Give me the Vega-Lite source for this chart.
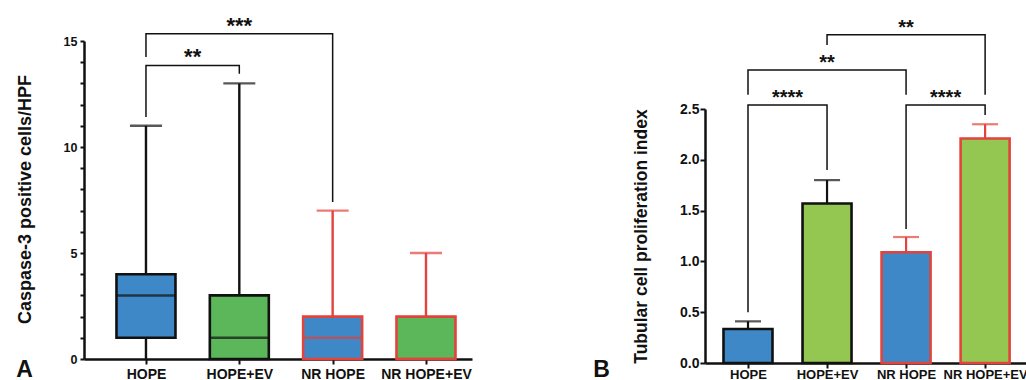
{
  "$schema": "https://vega.github.io/schema/vega-lite/v6.json",
  "padding": {"left": 15, "top": 14, "right": 0, "bottom": 0},
  "spacing": 120,
  "background": "white",
  "resolve": {"scale": {"fill": "independent", "stroke": "independent", "color": "independent"}},
  "config": {
    "font": "Liberation Sans",
    "view": {"stroke": null},
    "axis": {"domainColor": "#111111", "tickColor": "#111111", "labelColor": "#111111", "titleColor": "#111111", "grid": false, "domainWidth": 2.5, "tickWidth": 2, "labelFlush": false, "labelOverlap": false}
  },
  "datasets": {
    "boxes": [
      {"g": "HOPE", "i": 1, "min": 0, "q1": 1, "med": 3, "q3": 4, "max": 11, "ev": "no", "nr": "no"},
      {"g": "HOPE+EV", "i": 2, "min": 0, "q1": 0, "med": 1, "q3": 3, "max": 13, "ev": "yes", "nr": "no"},
      {"g": "NR HOPE", "i": 3, "min": 0, "q1": 0, "med": 1, "q3": 2, "max": 7, "ev": "no", "nr": "yes"},
      {"g": "NR HOPE+EV", "i": 4, "min": 0, "q1": 0, "med": 0, "q3": 2, "max": 5, "ev": "yes", "nr": "yes"}
    ],
    "bracketsA": [
      {"b": "a1", "o": 1, "x": 1, "y": 14.25},
      {"b": "a1", "o": 2, "x": 1, "y": 15.34},
      {"b": "a1", "o": 3, "x": 3, "y": 15.34},
      {"b": "a1", "o": 4, "x": 3, "y": 7.41},
      {"b": "a2", "o": 1, "x": 1, "y": 11.42},
      {"b": "a2", "o": 2, "x": 1, "y": 13.85},
      {"b": "a2", "o": 3, "x": 2, "y": 13.85},
      {"b": "a2", "o": 4, "x": 2, "y": 13.46}
    ],
    "starsA": [
      {"x": 2, "y": 15.34, "t": "***"},
      {"x": 1.5, "y": 13.85, "t": "**"}
    ],
    "bars": [
      {"g": "HOPE", "i": 1, "mean": 0.335, "err": 0.41, "ev": "no", "nr": "no"},
      {"g": "HOPE+EV", "i": 2, "mean": 1.57, "err": 1.8, "ev": "yes", "nr": "no"},
      {"g": "NR HOPE", "i": 3, "mean": 1.09, "err": 1.24, "ev": "no", "nr": "yes"},
      {"g": "NR HOPE+EV", "i": 4, "mean": 2.21, "err": 2.35, "ev": "yes", "nr": "yes"}
    ],
    "bracketsB": [
      {"b": "b1", "o": 1, "x": 1, "y": 0.5},
      {"b": "b1", "o": 2, "x": 1, "y": 2.54},
      {"b": "b1", "o": 3, "x": 2, "y": 2.54},
      {"b": "b1", "o": 4, "x": 2, "y": 1.9},
      {"b": "b2", "o": 1, "x": 3, "y": 1.32},
      {"b": "b2", "o": 2, "x": 3, "y": 2.54},
      {"b": "b2", "o": 3, "x": 4, "y": 2.54},
      {"b": "b2", "o": 4, "x": 4, "y": 2.44},
      {"b": "b3", "o": 1, "x": 1, "y": 2.64},
      {"b": "b3", "o": 2, "x": 1, "y": 2.885},
      {"b": "b3", "o": 3, "x": 3, "y": 2.885},
      {"b": "b3", "o": 4, "x": 3, "y": 2.64},
      {"b": "b4", "o": 1, "x": 2, "y": 3.13},
      {"b": "b4", "o": 2, "x": 2, "y": 3.23},
      {"b": "b4", "o": 3, "x": 4, "y": 3.23},
      {"b": "b4", "o": 4, "x": 4, "y": 2.64}
    ],
    "starsB": [
      {"x": 1.5, "y": 2.54, "t": "****"},
      {"x": 3.5, "y": 2.54, "t": "****"},
      {"x": 2, "y": 2.885, "t": "**"},
      {"x": 3, "y": 3.23, "t": "**"}
    ]
  },
  "hconcat": [
    {
      "width": 388,
      "height": 318,
      "layer": [
        {
          "data": {"name": "boxes"},
          "mark": {"type": "rule", "strokeWidth": 2.4},
          "encoding": {
            "x": {"field": "i", "type": "quantitative",
              "scale": {"domain": [0.336, 4.493], "nice": false, "zero": false, "padding": 0},
              "axis": {"values": [1, 2, 3, 4], "labelExpr": "['', 'HOPE', 'HOPE+EV', 'NR HOPE', 'NR HOPE+EV'][datum.value]",
                "labelFontSize": 14, "labelFontWeight": "bold", "tickSize": 5, "labelPadding": 3, "labelOverlap": false, "labelFlush": false,
                "title": "A", "titleFontSize": 23, "titleFontWeight": "bold", "titleX": -60, "titleY": 10, "titleAlign": "center", "titleBaseline": "middle"}},
            "y": {"field": "min", "type": "quantitative",
              "scale": {"domain": [0, 15], "nice": false, "padding": 0},
              "axis": {"values": [0,1,2,3,4,5,6,7,8,9,10,11,12,13,14,15], "labelExpr": "datum.value % 5 === 0 ? datum.label : ''",
                "labelOverlap": false, "labelFlush": false,
                "labelFontSize": 12.5, "labelFontWeight": "bold", "tickSize": 4, "labelPadding": 3,
                "title": "Caspase-3 positive cells/HPF", "titleFontSize": 18, "titleFontWeight": "bold",
                "titleX": -59, "titleY": 158, "titleAlign": "center", "titleBaseline": "middle"}},
            "y2": {"field": "max"},
            "stroke": {"field": "nr", "type": "nominal", "scale": {"domain": ["no", "yes"], "range": ["#111111", "#e2433b"]}, "legend": null}
          }
        },
        {
          "data": {"name": "boxes"},
          "mark": {"type": "bar", "width": 59, "strokeWidth": 2.6},
          "encoding": {
            "x": {"field": "i", "type": "quantitative"},
            "y": {"field": "q1", "type": "quantitative",
              "axis": {"values": [0,1,2,3,4,5,6,7,8,9,10,11,12,13,14,15], "labelExpr": "datum.value % 5 === 0 ? datum.label : ''",
                "labelOverlap": false, "labelFlush": false,
                "labelFontSize": 12.5, "labelFontWeight": "bold", "tickSize": 4, "labelPadding": 3,
                "title": "Caspase-3 positive cells/HPF", "titleFontSize": 18, "titleFontWeight": "bold",
                "titleX": -59, "titleY": 158, "titleAlign": "center", "titleBaseline": "middle"}},
            "y2": {"field": "q3"},
            "fill": {"field": "ev", "type": "nominal", "scale": {"domain": ["no", "yes"], "range": ["#3e88c7", "#5cb75a"]}, "legend": null},
            "stroke": {"field": "nr", "type": "nominal", "legend": null}
          }
        },
        {
          "data": {"name": "boxes"},
          "mark": {"type": "tick", "orient": "horizontal", "size": 60, "thickness": 2.5},
          "encoding": {
            "x": {"field": "i", "type": "quantitative"},
            "y": {"field": "med", "type": "quantitative",
              "axis": {"values": [0,1,2,3,4,5,6,7,8,9,10,11,12,13,14,15], "labelExpr": "datum.value % 5 === 0 ? datum.label : ''",
                "labelOverlap": false, "labelFlush": false,
                "labelFontSize": 12.5, "labelFontWeight": "bold", "tickSize": 4, "labelPadding": 3,
                "title": "Caspase-3 positive cells/HPF", "titleFontSize": 18, "titleFontWeight": "bold",
                "titleX": -59, "titleY": 158, "titleAlign": "center", "titleBaseline": "middle"}},
            "color": {"field": "nr", "type": "nominal", "scale": {"domain": ["no", "yes"], "range": ["#111111", "#e2433b"]}, "legend": null}
          }
        },
        {
          "data": {"name": "boxes"},
          "mark": {"type": "tick", "orient": "horizontal", "size": 32, "thickness": 2.4},
          "encoding": {
            "x": {"field": "i", "type": "quantitative"},
            "y": {"field": "max", "type": "quantitative",
              "axis": {"values": [0,1,2,3,4,5,6,7,8,9,10,11,12,13,14,15], "labelExpr": "datum.value % 5 === 0 ? datum.label : ''",
                "labelOverlap": false, "labelFlush": false,
                "labelFontSize": 12.5, "labelFontWeight": "bold", "tickSize": 4, "labelPadding": 3,
                "title": "Caspase-3 positive cells/HPF", "titleFontSize": 18, "titleFontWeight": "bold",
                "titleX": -59, "titleY": 158, "titleAlign": "center", "titleBaseline": "middle"}},
            "color": {"field": "nr", "type": "nominal", "legend": null}
          }
        },
        {
          "data": {"name": "bracketsA"},
          "mark": {"type": "line", "color": "#111111", "strokeWidth": 1.5},
          "encoding": {
            "x": {"field": "x", "type": "quantitative"},
            "y": {"field": "y", "type": "quantitative",
              "axis": {"values": [0,1,2,3,4,5,6,7,8,9,10,11,12,13,14,15], "labelExpr": "datum.value % 5 === 0 ? datum.label : ''",
                "labelOverlap": false, "labelFlush": false,
                "labelFontSize": 12.5, "labelFontWeight": "bold", "tickSize": 4, "labelPadding": 3,
                "title": "Caspase-3 positive cells/HPF", "titleFontSize": 18, "titleFontWeight": "bold",
                "titleX": -59, "titleY": 158, "titleAlign": "center", "titleBaseline": "middle"}},
            "detail": {"field": "b"},
            "order": {"field": "o", "type": "quantitative"}
          }
        },
        {
          "data": {"name": "starsA"},
          "mark": {"type": "text", "fontSize": 22, "fontWeight": "bold", "baseline": "alphabetic", "dy": -1, "color": "#111111"},
          "encoding": {
            "x": {"field": "x", "type": "quantitative"},
            "y": {"field": "y", "type": "quantitative",
              "axis": {"values": [0,1,2,3,4,5,6,7,8,9,10,11,12,13,14,15], "labelExpr": "datum.value % 5 === 0 ? datum.label : ''",
                "labelOverlap": false, "labelFlush": false,
                "labelFontSize": 12.5, "labelFontWeight": "bold", "tickSize": 4, "labelPadding": 3,
                "title": "Caspase-3 positive cells/HPF", "titleFontSize": 18, "titleFontWeight": "bold",
                "titleX": -59, "titleY": 158, "titleAlign": "center", "titleBaseline": "middle"}},
            "text": {"field": "t"}
          }
        }
      ]
    },
    {
      "width": 322,
      "height": 322,
      "layer": [
        {
          "data": {"name": "bars"},
          "mark": {"type": "bar", "width": 49, "strokeWidth": 2.6},
          "encoding": {
            "x": {"field": "i", "type": "quantitative",
              "scale": {"domain": [0.456, 4.53], "nice": false, "zero": false, "padding": 0},
              "axis": {"values": [1, 2, 3, 4], "labelExpr": "['', 'HOPE', 'HOPE+EV', 'NR HOPE', 'NR HOPE+EV'][datum.value]",
                "labelFontSize": 13, "labelFontWeight": "bold", "tickSize": 5, "labelPadding": 0, "labelOverlap": false, "labelFlush": false,
                "title": "B", "titleFontSize": 23, "titleFontWeight": "bold", "titleX": -104, "titleY": 6, "titleAlign": "center", "titleBaseline": "middle"}},
            "y": {"field": "mean", "type": "quantitative",
              "scale": {"domain": [0, 2.5], "range": [322, 68], "nice": false, "padding": 0},
              "axis": {"values": [0, 0.5, 1, 1.5, 2, 2.5], "format": ".1f", "labelOverlap": false, "labelFlush": false,
                "labelFontSize": 14, "labelFontWeight": "bold", "tickSize": 5, "labelPadding": 1,
                "title": "Tubular cell proliferation index", "titleFontSize": 17.5, "titleFontWeight": "bold",
                "titleX": -64, "titleY": 195, "titleAlign": "center", "titleBaseline": "middle"}},
            "fill": {"field": "ev", "type": "nominal", "scale": {"domain": ["no", "yes"], "range": ["#3e88c7", "#94c752"]}, "legend": null},
            "stroke": {"field": "nr", "type": "nominal", "scale": {"domain": ["no", "yes"], "range": ["#111111", "#e2433b"]}, "legend": null}
          }
        },
        {
          "data": {"name": "bars"},
          "mark": {"type": "rule", "strokeWidth": 2.2},
          "encoding": {
            "x": {"field": "i", "type": "quantitative"},
            "y": {"field": "mean", "type": "quantitative"},
            "y2": {"field": "err"},
            "stroke": {"field": "nr", "type": "nominal", "legend": null}
          }
        },
        {
          "data": {"name": "bars"},
          "mark": {"type": "tick", "orient": "horizontal", "size": 26, "thickness": 2.2},
          "encoding": {
            "x": {"field": "i", "type": "quantitative"},
            "y": {"field": "err", "type": "quantitative"},
            "color": {"field": "nr", "type": "nominal", "scale": {"domain": ["no", "yes"], "range": ["#111111", "#e2433b"]}, "legend": null}
          }
        },
        {
          "data": {"name": "bracketsB"},
          "mark": {"type": "line", "color": "#111111", "strokeWidth": 1.5},
          "encoding": {
            "x": {"field": "x", "type": "quantitative"},
            "y": {"field": "y", "type": "quantitative"},
            "detail": {"field": "b"},
            "order": {"field": "o", "type": "quantitative"}
          }
        },
        {
          "data": {"name": "starsB"},
          "mark": {"type": "text", "fontSize": 20, "fontWeight": "bold", "baseline": "alphabetic", "dy": -1, "color": "#111111"},
          "encoding": {
            "x": {"field": "x", "type": "quantitative"},
            "y": {"field": "y", "type": "quantitative"},
            "text": {"field": "t"}
          }
        }
      ]
    }
  ]
}
